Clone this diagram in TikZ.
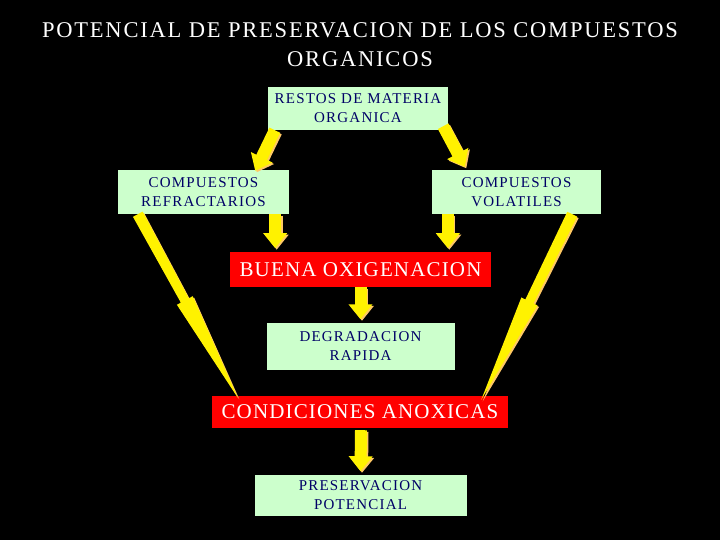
\documentclass[tikz,border=0pt]{standalone}
\usepackage{fontspec}
\setmainfont{Liberation Serif}
\newfontfamily\titlefont[LetterSpace=8]{Liberation Serif}
\newfontfamily\boxfont[LetterSpace=8]{Liberation Serif}
\newfontfamily\redfont[LetterSpace=5.5]{Liberation Serif}
\usetikzlibrary{arrows.meta,calc}
\definecolor{boxgreen}{HTML}{CCFFCC}
\definecolor{boxtext}{HTML}{000066}
\definecolor{boxred}{HTML}{FF0000}
\definecolor{arrowshade}{HTML}{FFC864}

% long yellow spike arrow with head in the middle
\newcommand\spikearrow[3]{%
  \coordinate (#3) at ($(#1)!0.47!(#2)$);
  \foreach \col/\sh in {arrowshade/1.5pt,yellow/0pt}
    \fill[\col,transform canvas={shift={(\sh,-\sh)}}]
      ($(#1)!5.5pt!90:(#2)$) -- ($(#3)!4.5pt!90:(#2)$) -- ($(#3)!9pt!90:(#2)$)
      -- (#2) -- ($(#3)!9pt!-90:(#2)$) -- ($(#3)!4.5pt!-90:(#2)$)
      -- ($(#1)!5.5pt!-90:(#2)$) -- cycle;}

\begin{document}
\begin{tikzpicture}[x=1pt,y=-1pt,
  gbox/.style={fill=boxgreen,text=boxtext,inner sep=0pt,align=center,font=\boxfont\fontsize{15}{19}\selectfont},
  rbox/.style={fill=boxred,text=white,inner sep=0pt,align=center,font=\redfont\fontsize{21}{24}\selectfont},
  blockarr/.style={line width=12pt,yellow,-{Triangle[length=15pt,width=23pt]}},
  shadearr/.style={line width=12pt,arrowshade,-{Triangle[length=15pt,width=23pt]},transform canvas={shift={(1.5pt,-1.5pt)}}}]
\fill[black] (0,0) rectangle (720,540);
\node[text=white,align=center,font=\titlefont\fontsize{22.5}{29}\selectfont] (title) at (360,45)
  {POTENCIAL DE PRESERVACION DE LOS COMPUESTOS\\ORGANICOS};
\node[gbox,minimum width=180pt,minimum height=43pt] (restos) at (358,108.5) {RESTOS DE MATERIA\\ORGANICA};
\node[gbox,minimum width=171pt,minimum height=44pt] (refr) at (203.5,192) {COMPUESTOS\\REFRACTARIOS};
\node[gbox,minimum width=169pt,minimum height=44pt] (vol) at (516.5,192) {COMPUESTOS\\VOLATILES};
\node[rbox,minimum width=261pt,minimum height=35pt] (buena) at (360.5,269.5) {BUENA OXIGENACION};
\node[gbox,minimum width=188pt,minimum height=47pt] (degr) at (360.5,346) {DEGRADACION\\RAPIDA};
\node[rbox,minimum width=296pt,minimum height=32pt] (cond) at (360,412) {CONDICIONES ANOXICAS};
\node[gbox,minimum width=212pt,minimum height=41pt] (pres) at (360.5,495) {PRESERVACION\\POTENCIAL};

\coordinate (s1) at ($(restos.south west)+(7,0)$);
\coordinate (e1) at ($(refr.north east)+(-34,1)$);
\coordinate (s2) at ($(restos.south east)+(-5,-4)$);
\coordinate (e2) at ($(vol.north west)+(33,-3)$);
\coordinate (s3) at ($(refr.south east)+(-14,0)$);
\coordinate (e3) at ($(refr.south east)+(-14,34)$);
\coordinate (s4) at ($(vol.south west)+(16,0)$);
\coordinate (e4) at ($(vol.south west)+(16,34)$);
\coordinate (s5) at ($(buena.south)+(0,0)$);
\coordinate (e5) at ($(degr.north)+(0,-3)$);
\coordinate (s6) at ($(cond.south)+(1,2)$);
\coordinate (e6) at ($(pres.north)+(0,-3)$);
\foreach \from/\to in {s1/e1,s2/e2,s3/e3,s4/e4,s5/e5,s6/e6}{
  \draw[shadearr] (\from)--(\to);
  \draw[blockarr] (\from)--(\to);}

\coordinate (ls) at ($(refr.south west)+(20,0)$);
\coordinate (le) at ($(cond.north west)+(26,2)$);
\coordinate (rs) at ($(vol.south east)+(-29,0)$);
\coordinate (re) at ($(cond.north east)+(-27,4)$);
\spikearrow{ls}{le}{lm}
\spikearrow{rs}{re}{rm}
\end{tikzpicture}
\end{document}
